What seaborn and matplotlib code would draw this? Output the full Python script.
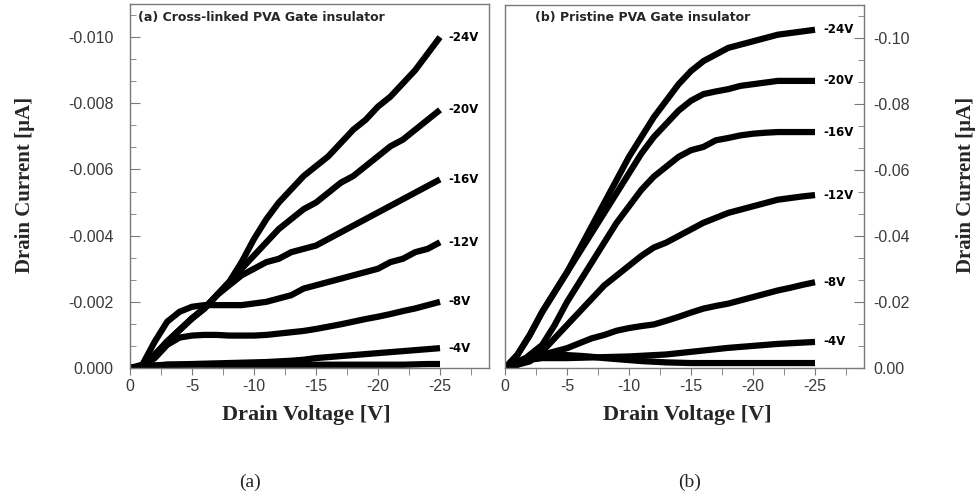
import matplotlib
matplotlib.use("Agg")
import matplotlib.pyplot as plt
import numpy as np
import pandas as pd
import seaborn as sns
from matplotlib.ticker import MultipleLocator, AutoMinorLocator, FuncFormatter

# ---------------- data ----------------
drain_voltage = [0, -1, -2, -3, -4, -5, -6, -7, -8, -9, -10, -11, -12,
                 -13, -14, -15, -16, -17, -18, -19, -20, -21, -22, -23, -24, -25]
gate_labels = ["0V", "-4V", "-8V", "-12V", "-16V", "-20V", "-24V"]

# (a) cross-linked PVA gate insulator, drain current
a_0V = [0, -0.00005, -0.00008, -0.0001, -0.0001, -0.0001, -0.0001, -0.0001, -0.0001,
        -0.0001, -0.0001, -0.0001, -0.0001, -0.0001, -0.0001, -0.0001, -0.0001, -0.0001,
        -0.0001, -0.0001, -0.0001, -0.0001, -0.0001, -0.00011, -0.00012, -0.00012]
a_4V = [0, -0.00003, -0.00006, -0.0001, -0.00011, -0.00012, -0.00013, -0.00014, -0.00015,
        -0.00016, -0.00017, -0.00018, -0.0002, -0.00022, -0.00025, -0.0003, -0.00033,
        -0.00036, -0.00039, -0.00042, -0.00045, -0.00048, -0.00051, -0.00054, -0.00057, -0.0006]
a_8V = [0, -0.00005, -0.0003, -0.0007, -0.00092, -0.00098, -0.001, -0.001, -0.00098,
        -0.00098, -0.00098, -0.001, -0.00104, -0.00108, -0.00112, -0.00118, -0.00125,
        -0.00132, -0.0014, -0.00148, -0.00155, -0.00163, -0.00172, -0.0018, -0.0019, -0.002]
a_12V = [0, -0.0001, -0.0008, -0.0014, -0.0017, -0.00185, -0.0019, -0.0019, -0.0019,
         -0.0019, -0.00195, -0.002, -0.0021, -0.0022, -0.0024, -0.0025, -0.0026, -0.0027,
         -0.0028, -0.0029, -0.003, -0.0032, -0.0033, -0.0035, -0.0036, -0.0038]
a_16V = [0, -0.00005, -0.0004, -0.0008, -0.00115, -0.0015, -0.0018, -0.0022, -0.0025,
         -0.0028, -0.003, -0.0032, -0.0033, -0.0035, -0.0036, -0.0037, -0.0039, -0.0041,
         -0.0043, -0.0045, -0.0047, -0.0049, -0.0051, -0.0053, -0.0055, -0.0057]
a_20V = [0, -0.00005, -0.0004, -0.0008, -0.00115, -0.0015, -0.0018, -0.0022, -0.0026,
         -0.003, -0.0034, -0.0038, -0.0042, -0.0045, -0.0048, -0.005, -0.0053, -0.0056,
         -0.0058, -0.0061, -0.0064, -0.0067, -0.0069, -0.0072, -0.0075, -0.0078]
a_24V = [0, -0.00005, -0.0004, -0.0008, -0.00115, -0.0015, -0.0018, -0.0022, -0.0026,
         -0.0032, -0.0039, -0.0045, -0.005, -0.0054, -0.0058, -0.0061, -0.0064, -0.0068,
         -0.0072, -0.0075, -0.0079, -0.0082, -0.0086, -0.009, -0.0095, -0.01]

# (b) pristine PVA gate insulator, drain current
b_0V = [0, -0.002, -0.0035, -0.004, -0.004, -0.0039, -0.0037, -0.0034, -0.003, -0.0027,
        -0.0024, -0.0021, -0.0019, -0.0017, -0.0016, -0.0015, -0.0015, -0.0015, -0.0015,
        -0.0015, -0.0015, -0.0015, -0.0015, -0.0015, -0.0015, -0.0015]
b_4V = [0, -0.0015, -0.0025, -0.003, -0.003, -0.003, -0.0031, -0.0032, -0.0033, -0.0034,
        -0.0035, -0.0037, -0.0039, -0.0041, -0.0045, -0.0049, -0.0053, -0.0057, -0.0061,
        -0.0064, -0.0067, -0.007, -0.0073, -0.0075, -0.0077, -0.0079]
b_8V = [0, -0.001, -0.003, -0.004, -0.005, -0.006, -0.0075, -0.009, -0.01, -0.0113,
        -0.0121, -0.0127, -0.0132, -0.0143, -0.0155, -0.0168, -0.018, -0.0188, -0.0195,
        -0.0205, -0.0215, -0.0225, -0.0235, -0.0243, -0.0252, -0.026]
b_12V = [0, -0.001, -0.002, -0.005, -0.009, -0.013, -0.017, -0.021, -0.025, -0.028,
         -0.031, -0.034, -0.0365, -0.038, -0.04, -0.042, -0.044, -0.0455, -0.047, -0.048,
         -0.049, -0.05, -0.051, -0.0515, -0.052, -0.0524]
b_16V = [0, -0.001, -0.004, -0.007, -0.013, -0.02, -0.026, -0.032, -0.038, -0.044,
         -0.049, -0.054, -0.058, -0.061, -0.064, -0.066, -0.067, -0.069, -0.0697, -0.0705,
         -0.071, -0.0713, -0.0715, -0.0715, -0.0715, -0.0715]
b_20V = [0, -0.004, -0.01, -0.017, -0.023, -0.029, -0.035, -0.041, -0.047, -0.053,
         -0.059, -0.065, -0.07, -0.074, -0.078, -0.081, -0.083, -0.0838, -0.0845, -0.0855,
         -0.086, -0.0865, -0.087, -0.087, -0.087, -0.087]
b_24V = [0, -0.004, -0.01, -0.017, -0.023, -0.029, -0.036, -0.043, -0.05, -0.057,
         -0.064, -0.07, -0.076, -0.081, -0.086, -0.09, -0.093, -0.095, -0.097, -0.098,
         -0.099, -0.1, -0.101, -0.1015, -0.102, -0.1025]

panel_a = [a_0V, a_4V, a_8V, a_12V, a_16V, a_20V, a_24V]
panel_b = [b_0V, b_4V, b_8V, b_12V, b_16V, b_20V, b_24V]

titles = ["(a) Cross-linked PVA Gate insulator", "(b) Pristine PVA Gate insulator"]
x_ticks = [0, -5, -10, -15, -20, -25]


def long_frame(series):
    rows = []
    for lab, vals in zip(gate_labels, series):
        for v, i in zip(drain_voltage, vals):
            rows.append({"Vd": v, "Id": i, "Vg": lab})
    return pd.DataFrame(rows)


# ---------------- figure ----------------
sns.set_style("ticks")
plt.rcParams["font.family"] = ["DejaVu Sans"]

W, H = 980, 497
fig = plt.figure(figsize=(W / 100, H / 100), dpi=100)


def rect(l, t, r, b):
    return [l / W, 1 - b / H, (r - l) / W, (b - t) / H]


ax_a = fig.add_axes(rect(130, 4, 489, 368))
ax_b = fig.add_axes(rect(505, 5, 864, 368))

spine_col = "#7a7a7a"
tick_col = "#3a3a3a"
tick_font = ["Liberation Sans", "DejaVu Sans"]

for ax, series, ylim, ymaj, fmt in [
    (ax_a, panel_a, (0, -0.011), 0.002, "{:.3f}"),
    (ax_b, panel_b, (0, -0.110), 0.02, "{:.2f}"),
]:
    df = long_frame(series)
    sns.lineplot(data=df, x="Vd", y="Id", hue="Vg", palette=["black"] * len(gate_labels),
                 estimator=None, sort=False, legend=False, ax=ax, linewidth=4.5,
                 solid_capstyle="butt", solid_joinstyle="miter")
    ax.set_xlim(0, -28.95)
    ax.set_ylim(*ylim)
    ax.set_xlabel("")
    ax.set_ylabel("")
    ax.set_xticks(x_ticks)
    ax.xaxis.set_minor_locator(AutoMinorLocator(2))
    ax.yaxis.set_major_locator(MultipleLocator(ymaj))
    ax.yaxis.set_minor_locator(AutoMinorLocator(3))
    ax.xaxis.set_major_formatter(FuncFormatter(lambda v, p: "0" if abs(v) < 1e-9 else f"{v:.0f}"))
    ax.yaxis.set_major_formatter(
        FuncFormatter(lambda v, p, f=fmt: f.format(0.0) if abs(v) < 1e-12 else f.format(v)))
    for s in ax.spines.values():
        s.set_visible(True)
        s.set_color(spine_col)
        s.set_linewidth(1.0)
    ax.tick_params(axis="x", which="both", direction="out", color=spine_col,
                   labelcolor=tick_col, labelsize=11.5, pad=3, top=False)
    ax.tick_params(axis="x", which="major", length=5)
    ax.tick_params(axis="x", which="minor", length=5)
    for lbl in ax.get_xticklabels() + ax.get_yticklabels():
        lbl.set_family(tick_font)
    # curve labels
    for lab, vals in zip(gate_labels[1:], series[1:]):
        ax.annotate(lab, xy=(drain_voltage[-1], vals[-1]), xytext=(6, 0),
                    textcoords="offset points", ha="left", va="center",
                    fontsize=8.5, fontweight="bold", color="black")

# left axis of (a)
ax_a.tick_params(axis="y", which="both", direction="in", left=True, right=False,
                 color=spine_col, labelcolor=tick_col, labelsize=11.5, pad=12)
ax_a.tick_params(axis="y", which="major", length=7)
ax_a.tick_params(axis="y", which="minor", length=4)

# right axis of (b)
ax_b.yaxis.tick_right()
ax_b.tick_params(axis="y", which="both", direction="in", left=False, right=True,
                 labelleft=False, labelright=True, color=spine_col,
                 labelcolor=tick_col, labelsize=11.5, pad=7)
ax_b.tick_params(axis="y", which="major", length=7)
ax_b.tick_params(axis="y", which="minor", length=4)

for ax in (ax_a, ax_b):
    for lbl in ax.get_xticklabels() + ax.get_yticklabels():
        lbl.set_family(tick_font)

# titles inside panels
fig.text(138 / W, 1 - 18 / H, titles[0], ha="left", va="center",
         fontsize=9, fontweight="bold")
fig.text(535 / W, 1 - 17 / H, titles[1], ha="left", va="center",
         fontsize=9, fontweight="bold")

serif = ["Liberation Serif", "DejaVu Serif"]
# axis labels
fig.text(306 / W, 1 - 415 / H, "Drain Voltage [V]", ha="center", va="center",
         family=serif, fontweight="bold", fontsize=16)
fig.text(687 / W, 1 - 415 / H, "Drain Voltage [V]", ha="center", va="center",
         family=serif, fontweight="bold", fontsize=16)
fig.text(25 / W, 1 - 185 / H, "Drain Current [μA]", rotation=90, ha="center",
         va="center", family=serif, fontweight="bold", fontsize=15)
fig.text(966 / W, 1 - 185 / H, "Drain Current [μA]", rotation=90, ha="center",
         va="center", family=serif, fontweight="bold", fontsize=15)

# captions
fig.text(250 / W, 1 - 482 / H, "(a)", ha="center", va="center", family=serif, fontsize=14)
fig.text(690 / W, 1 - 482 / H, "(b)", ha="center", va="center", family=serif, fontsize=14)

fig.savefig("out.png", dpi=100, facecolor="white")
